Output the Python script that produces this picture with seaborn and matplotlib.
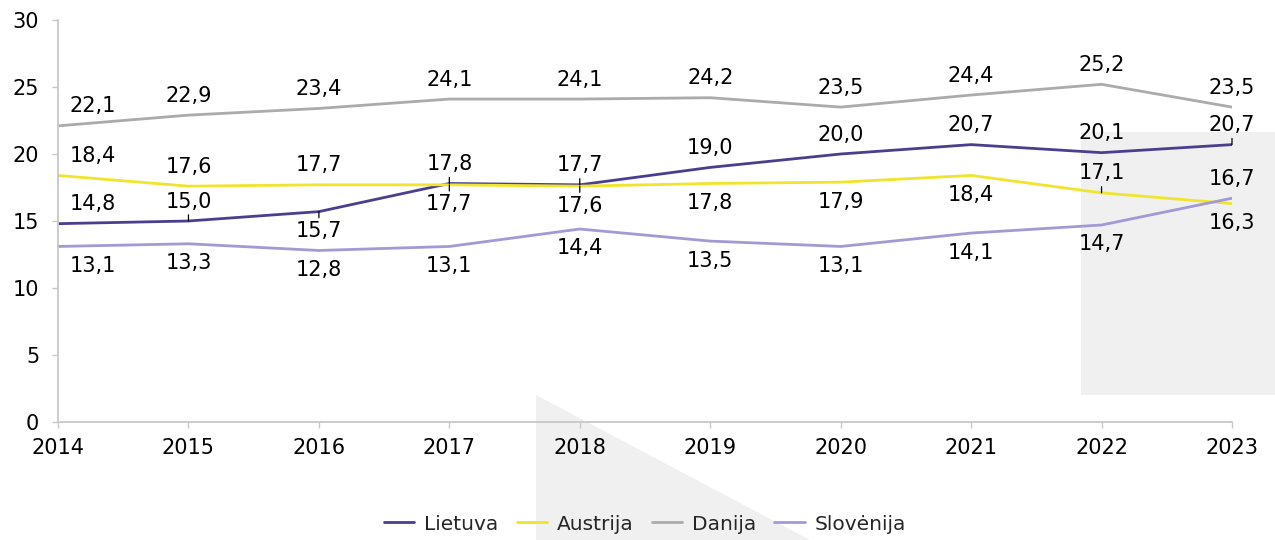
import matplotlib
matplotlib.use("Agg")
import matplotlib.pyplot as plt
import matplotlib.patches as mpatches
import seaborn as sns
import pandas as pd

years = [2014, 2015, 2016, 2017, 2018, 2019, 2020, 2021, 2022, 2023]
lietuva = [14.8, 15.0, 15.7, 17.8, 17.7, 19.0, 20.0, 20.7, 20.1, 20.7]
austrija = [18.4, 17.6, 17.7, 17.7, 17.6, 17.8, 17.9, 18.4, 17.1, 16.3]
danija = [22.1, 22.9, 23.4, 24.1, 24.1, 24.2, 23.5, 24.4, 25.2, 23.5]
slovenija = [13.1, 13.3, 12.8, 13.1, 14.4, 13.5, 13.1, 14.1, 14.7, 16.7]
series_names = ["Lietuva", "Austrija", "Danija", "Slovėnija"]
y_ticks = [0, 5, 10, 15, 20, 25, 30]

# label placement: +1 above, -1 below ; leader lines flagged
label_side = {
    "Lietuva":   [1, 1, -1, 1, 1, 1, 1, 1, 1, 1],
    "Austrija":  [1, 1, 1, -1, -1, -1, -1, -1, 1, -1],
    "Danija":    [1] * 10,
    "Slovėnija": [-1, -1, -1, -1, -1, -1, -1, -1, -1, 1],
}
leaders = {
    "Lietuva":   [0, 1, 1, 1, 1, 0, 0, 0, 0, 1],
    "Austrija":  [0, 0, 0, 1, 1, 0, 0, 0, 1, 0],
    "Danija":    [0] * 10,
    "Slovėnija": [0] * 10,
}

colors = {"Lietuva": "#4A3F8E", "Austrija": "#EFE52C",
          "Danija": "#ABABAB", "Slovėnija": "#A399D5"}

values = {"Lietuva": lietuva, "Austrija": austrija,
          "Danija": danija, "Slovėnija": slovenija}
df = pd.DataFrame([
    {"year": y, "value": v, "series": name}
    for name in series_names for y, v in zip(years, values[name])
])

sns.set_theme(style="white")
plt.rcParams["font.family"] = ["DejaVu Sans"]
FS_NUM = 15
FS_LEG = 14.5

fig = plt.figure(figsize=(12.75, 5.4), dpi=100)
W, H = 1275, 540

# decorative light-grey shapes behind the chart
fig.patches.append(mpatches.Rectangle((1081 / W, 1 - 395 / H), (1275 - 1081) / W,
                                      (395 - 132) / H, transform=fig.transFigure,
                                      facecolor="#F0F0F0", edgecolor="none", zorder=-5))
fig.patches.append(mpatches.Polygon([(536 / W, 1 - 395 / H), (536 / W, 0),
                                     (810 / W, 0)], closed=True,
                                    transform=fig.transFigure,
                                    facecolor="#F0F0F0", edgecolor="none", zorder=-5))

ax = fig.add_axes([58 / W, 1 - 422 / H, (1232 - 58) / W, (422 - 20) / H])
ax.patch.set_alpha(0)

sns.lineplot(data=df, x="year", y="value", hue="series", hue_order=series_names,
             palette=colors, linewidth=2.0, ax=ax, legend=False)

for name in series_names:
    for i, (x, v) in enumerate(zip(years, values[name])):
        side = label_side[name][i]
        dx = 25 if i == 0 else 0
        txt = f"{v:.1f}".replace(".", ",")
        kw = {}
        if leaders[name][i]:
            kw["arrowprops"] = dict(arrowstyle="-", color="black", lw=0.9,
                                    shrinkA=0, shrinkB=0)
        ax.annotate(txt, xy=(x, v), xytext=(dx, side * 14.0),
                    textcoords="offset points", ha="center", va="center",
                    fontsize=FS_NUM, color="black", zorder=5, **kw)

ax.set_xlim(years[0], years[-1])
ax.set_ylim(0, 30)
ax.set_yticks(y_ticks)
ax.set_xticks(years)
ax.set_xticklabels([str(y) for y in years])
ax.set_xlabel("")
ax.set_ylabel("")

for s in ["top", "right"]:
    ax.spines[s].set_visible(False)
for s in ["left", "bottom"]:
    ax.spines[s].set_color("#C8C8C8")
    ax.spines[s].set_linewidth(1.3)

ax.tick_params(axis="both", which="major", labelsize=FS_NUM, colors="black",
               length=4.5, width=1.0, color="#C8C8C8", direction="out")
ax.tick_params(axis="y", pad=9)
ax.tick_params(axis="x", pad=7, bottom=True)
ax.tick_params(axis="y", left=True)

handles = [plt.Line2D([0], [0], color=colors[n], lw=2.0) for n in series_names]
fig.legend(handles, series_names, loc="center", ncol=4, frameon=False,
           bbox_to_anchor=(645 / W, 1 - 524 / H), fontsize=FS_LEG,
           handlelength=1.5, handletextpad=0.5, columnspacing=0.9)

fig.savefig("out.png", dpi=100)
